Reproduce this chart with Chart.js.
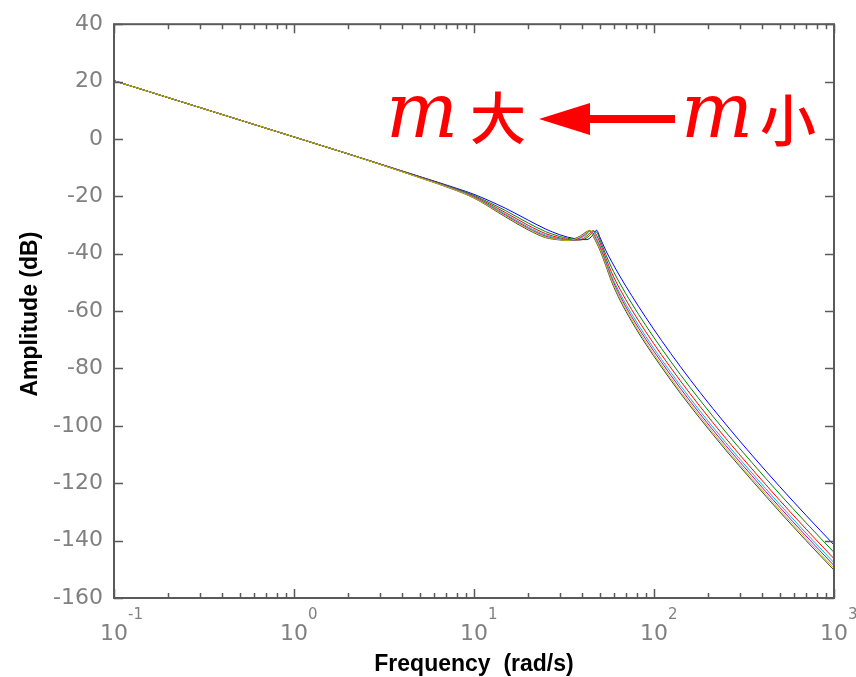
<!DOCTYPE html>
<html>
<head>
<meta charset="utf-8">
<script src="https://cdn.jsdelivr.net/npm/chart.js@4.4.1/dist/chart.umd.min.js"></script>
<style>
  html, body { margin: 0; padding: 0; background: #fff; }
  #wrap { width: 856px; height: 677px; }
</style>
</head>
<body>
<div id="wrap"><canvas id="bode" width="856" height="677"></canvas></div>
<script>
// frequency points (rad/s), shared by all curves
const freq = [0.1, 0.2, 0.5, 1, 2, 5, 8, 10, 15, 20, 25, 30, 33, 36, 39, 42, 44, 46, 48, 50, 54, 58, 65, 75, 90, 110, 140, 180, 250, 350, 500, 700, 1000];

// amplitude (dB), one array per value of m (small m -> large m)
const ampBlue    = [20.3, 14.4, 6.6, 0.7, -5.2, -13.1, -17.2, -19.3, -24.2, -28.3, -31.4, -33.4, -34.2, -34.7, -35.0, -35.1, -34.6, -33.2, -31.8, -34.2, -38.9, -42.6, -48.1, -54.5, -62.2, -70.2, -79.3, -88.3, -99.4, -110.2, -121.2, -131.2, -141.5];
const ampGreen   = [20.3, 14.4, 6.6, 0.7, -5.2, -13.2, -17.4, -19.7, -25.0, -29.3, -32.3, -34.0, -34.6, -35.0, -35.2, -34.6, -33.6, -32.2, -32.4, -35.0, -40.3, -44.7, -50.6, -57.2, -65.0, -73.0, -82.1, -91.0, -102.1, -112.8, -123.8, -133.8, -144.1];
const ampRed     = [20.3, 14.4, 6.6, 0.7, -5.2, -13.3, -17.6, -20.0, -25.7, -30.1, -33.0, -34.5, -35.0, -35.3, -35.1, -34.0, -32.8, -31.9, -33.6, -36.0, -41.5, -46.4, -52.6, -59.4, -67.2, -75.2, -84.3, -93.2, -104.3, -115.0, -126.0, -136.0, -146.3];
const ampCyan    = [20.3, 14.4, 6.6, 0.7, -5.2, -13.4, -17.7, -20.2, -26.2, -30.7, -33.5, -34.8, -35.2, -35.3, -34.6, -33.4, -32.2, -32.2, -34.6, -37.0, -42.4, -47.6, -54.0, -60.9, -68.8, -76.8, -85.9, -94.8, -105.8, -116.4, -127.4, -137.4, -147.7];
const ampMagenta = [20.3, 14.4, 6.6, 0.7, -5.2, -13.4, -17.8, -20.4, -26.6, -31.1, -33.9, -35.0, -35.3, -35.2, -34.3, -33.0, -31.9, -33.0, -35.3, -37.6, -43.1, -48.3, -54.9, -61.9, -69.8, -77.8, -86.9, -95.8, -106.8, -117.4, -128.4, -138.4, -148.7];
const ampYellow  = [20.3, 14.4, 6.6, 0.7, -5.2, -13.5, -17.9, -20.5, -26.9, -31.4, -34.2, -35.1, -35.4, -35.0, -34.0, -32.7, -31.8, -33.6, -35.9, -38.2, -43.7, -49.0, -55.7, -62.8, -70.8, -78.8, -87.9, -96.7, -107.7, -118.3, -129.3, -139.3, -149.6];
const ampGray    = [20.3, 14.4, 6.6, 0.7, -5.2, -13.5, -18.0, -20.6, -27.2, -31.7, -34.4, -35.2, -35.4, -34.8, -33.8, -32.4, -31.9, -34.0, -36.3, -38.7, -44.2, -49.6, -56.4, -63.5, -71.5, -79.5, -88.6, -97.4, -108.4, -119.0, -130.0, -140.0, -150.3];

const curves = [ampBlue, ampGreen, ampRed, ampCyan, ampMagenta, ampYellow, ampGray];
const curveColors = ['#0000ff', '#008000', '#ff0000', '#00bfbf', '#bf00bf', '#bfbf00', '#404040'];
const curveOrder = [0, -1, -2, -3, -4, -10, -5]; // lower = drawn on top

// axis ticks
const yTicks = [40, 20, 0, -20, -40, -60, -80, -100, -120, -140, -160];
const xDecades = [-1, 0, 1, 2, 3];

const AXIS = '#5a5a5a';
const TICK_TXT = '#808080';

// matlab-like frame: box, inward ticks, 10^n labels, axis titles, annotation
const framePlugin = {
  id: 'frame',
  afterDraw(chart) {
    const { ctx, chartArea: a, scales: { x, y } } = chart;
    ctx.save();
    ctx.strokeStyle = AXIS;
    ctx.lineWidth = 2;
    ctx.strokeRect(a.left, a.top, a.right - a.left, a.bottom - a.top);

    ctx.lineWidth = 1.5;
    ctx.beginPath();
    // y ticks, left and right, pointing in
    yTicks.forEach(v => {
      const py = Math.round(y.getPixelForValue(v)) + 0.5;
      ctx.moveTo(a.left, py); ctx.lineTo(a.left + 9, py);
      ctx.moveTo(a.right, py); ctx.lineTo(a.right - 9, py);
    });
    // x ticks, major + minor, bottom and top
    xDecades.forEach(d => {
      for (let k = 1; k <= 9; k++) {
        const v = k * Math.pow(10, d);
        if (v > 1000) break;
        const px = Math.round(x.getPixelForValue(v)) + 0.5;
        const len = k === 1 ? 9 : 5;
        ctx.moveTo(px, a.bottom); ctx.lineTo(px, a.bottom - len);
        ctx.moveTo(px, a.top); ctx.lineTo(px, a.top + len);
      }
    });
    ctx.stroke();

    // x tick labels 10^n
    ctx.fillStyle = TICK_TXT;
    ctx.textBaseline = 'alphabetic';
    xDecades.forEach(d => {
      const px = x.getPixelForValue(Math.pow(10, d));
      ctx.font = '22px "DejaVu Sans"';
      ctx.textAlign = 'center';
      ctx.fillText('10', px, 640);
      ctx.font = '15px "DejaVu Sans"';
      ctx.textAlign = 'left';
      ctx.fillText(String(d), px + 14, 619);
    });

    // axis titles
    ctx.fillStyle = '#000';
    ctx.font = 'bold 23px "Liberation Sans"';
    ctx.textAlign = 'center';
    ctx.fillText('Frequency  (rad/s)', (a.left + a.right) / 2, 671);
    ctx.save();
    ctx.translate(37, (a.top + a.bottom) / 2 + 3);
    ctx.rotate(-Math.PI / 2);
    ctx.fillText('Amplitude (dB)', 0, 0);
    ctx.restore();

    // annotation: m大 <—— m小
    ctx.fillStyle = '#ff0000';
    ctx.textAlign = 'left';
    ctx.font = 'italic 76px "DejaVu Serif"';
    ctx.fillText('m', 386, 137);
    ctx.fillText('m', 681, 137);
    ctx.font = '500 56px "Noto Sans CJK SC"';
    ctx.fillText('大', 470, 139);
    ctx.fillText('小', 760, 141);
    ctx.fillRect(585, 115, 90, 8);
    ctx.beginPath();
    ctx.moveTo(539, 119);
    ctx.lineTo(590, 103);
    ctx.lineTo(590, 135);
    ctx.closePath();
    ctx.fill();
    ctx.restore();
  }
};

const bgPlugin = {
  id: 'bg',
  beforeDraw(chart) {
    const c = chart.ctx;
    c.save();
    c.fillStyle = '#fff';
    c.fillRect(0, 0, chart.width, chart.height);
    c.restore();
  }
};

new Chart(document.getElementById('bode'), {
  type: 'line',
  data: {
    datasets: curves.map((amp, i) => ({
      data: freq.map((f, j) => ({ x: f, y: amp[j] })),
      borderColor: curveColors[i],
      borderWidth: 1,
      pointRadius: 0,
      cubicInterpolationMode: 'monotone',
      order: curveOrder[i],
      fill: false
    }))
  },
  options: {
    responsive: false,
    devicePixelRatio: 1,
    animation: false,
    layout: { padding: { left: 0, top: 19, right: 22, bottom: 0 } },
    plugins: { legend: { display: false }, tooltip: { enabled: false } },
    scales: {
      x: {
        type: 'logarithmic',
        min: 0.1,
        max: 1000,
        grid: { display: false },
        border: { display: false },
        ticks: { display: false },
        afterFit: s => { s.height = 79; }
      },
      y: {
        type: 'linear',
        min: -160,
        max: 40,
        grid: { display: false, drawTicks: false },
        border: { display: false },
        ticks: {
          stepSize: 20,
          padding: 11,
          color: TICK_TXT,
          font: { family: 'DejaVu Sans', size: 22 }
        },
        afterFit: s => { s.width = 114; }
      }
    }
  },
  plugins: [bgPlugin, framePlugin]
});
</script>
</body>
</html>
